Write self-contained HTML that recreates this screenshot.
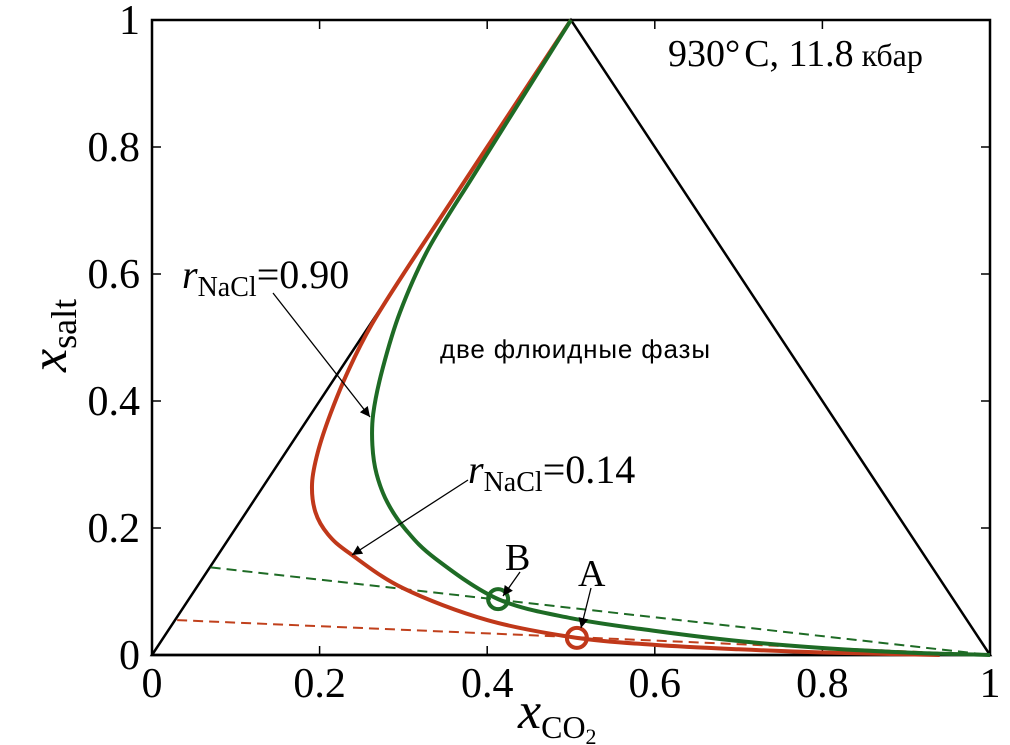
<!DOCTYPE html>
<html><head><meta charset="utf-8"><style>
html,body{margin:0;padding:0;background:#fff;}
svg{display:block;font-family:"Liberation Serif",serif;}
</style></head><body>
<svg id="chart" width="1010" height="745" viewBox="0 0 1010 745" xmlns="http://www.w3.org/2000/svg">
<defs>
<marker id="ah" viewBox="0 0 10 10" refX="10" refY="5" markerWidth="14" markerHeight="10" markerUnits="userSpaceOnUse" orient="auto"><path d="M0,0 L10,5 L0,10 z" fill="#000"/></marker>
</defs>
<g id="axes"></g>
<g id="marks"></g>
<text x="668" y="66" font-size="38">930°<tspan dx="4">C, 11.8</tspan><tspan font-size="32" dx="8">кбар</tspan></text>
<text x="440" y="358" font-size="26" font-family="Liberation Sans, sans-serif" textLength="270">две флюидные фазы</text>
<text x="182" y="288" font-size="40"><tspan font-style="italic">r</tspan><tspan font-size="28" dy="8">NaCl</tspan><tspan dy="-8">=0.90</tspan></text>
<text x="468" y="483" font-size="40"><tspan font-style="italic">r</tspan><tspan font-size="28" dy="8">NaCl</tspan><tspan dy="-8">=0.14</tspan></text>
<text x="505" y="570" font-size="38">B</text>
<text x="578" y="586" font-size="38">A</text>
<line x1="273" y1="293" x2="370" y2="417" stroke="#000" stroke-width="1.3" marker-end="url(#ah)"/>
<line x1="468" y1="480" x2="352" y2="555" stroke="#000" stroke-width="1.3" marker-end="url(#ah)"/>
<line x1="520" y1="572" x2="503" y2="596" stroke="#000" stroke-width="1.3" marker-end="url(#ah)"/>
<line x1="591" y1="588" x2="581" y2="628" stroke="#000" stroke-width="1.3" marker-end="url(#ah)"/>
<text x="518" y="728" font-size="52" font-style="italic">x<tspan font-style="normal" font-size="32" dy="10">CO</tspan><tspan font-style="normal" font-size="22" dy="6">2</tspan></text>
<text transform="translate(66,372) rotate(-90)" font-size="52" font-style="italic">x<tspan font-style="normal" font-size="36" dy="10">salt</tspan></text>
</svg>
<script>
const xTicks=[0,0.2,0.4,0.6,0.8,1];
const yTicks=[0,0.2,0.4,0.6,0.8,1];
const xTickLabels=["0","0.2","0.4","0.6","0.8","1"];
const yTickLabels=["0","0.2","0.4","0.6","0.8","1"];
const triangle=[[0,0],[0.5,1],[1,0]];
const greenX=[0.5,0.443,0.386,0.33,0.296,0.275,0.264,0.263,0.268,0.281,0.303,0.338,0.413,0.5,0.6,0.7,0.8,0.9,1.0];
const greenY=[1,0.88,0.76,0.64,0.54,0.45,0.38,0.33,0.285,0.24,0.197,0.152,0.088,0.058,0.038,0.022,0.011,0.004,0];
const redX=[0.5,0.45,0.40,0.35,0.30,0.262,0.235,0.213,0.198,0.191,0.195,0.21,0.236,0.3,0.4,0.507,0.6,0.7,0.8,0.94];
const redY=[1,0.9,0.8,0.7,0.6,0.52,0.45,0.38,0.32,0.27,0.225,0.19,0.16,0.105,0.055,0.027,0.016,0.009,0.004,0];
const greenTieX=[0.07,1.0], greenTieY=[0.138,0];
const redTieX=[0.03,1.0], redTieY=[0.055,0];
const pointB=[0.413,0.088], pointA=[0.507,0.027];
const X0=152,X1=990,Y0=655,Y1=20;
const sx=v=>X0+v*(X1-X0), sy=v=>Y0-v*(Y0-Y1);
const NS="http://www.w3.org/2000/svg";
const ax=document.getElementById('axes'), mk=document.getElementById('marks');
function el(t,a,p){const e=document.createElementNS(NS,t);for(const k in a)e.setAttribute(k,a[k]);p.appendChild(e);return e;}
let f=el('rect',{x:X0,y:Y1,width:X1-X0,height:Y0-Y1,fill:'none',stroke:'#000','stroke-width':2.5},ax);


xTicks.forEach((v,i)=>{
 let t=el('path',{d:`M${sx(v)},${Y0}v-9M${sx(v)},${Y1}v9`,stroke:'#000','stroke-width':1.5},ax);
 
 
 let l=el('text',{x:sx(v),y:697,'text-anchor':'middle','font-size':42},ax);l.textContent=xTickLabels[i];
 
 
});
yTicks.forEach((v,i)=>{
 let t=el('path',{d:`M${X0},${sy(v)}h9M${X1},${sy(v)}h-9`,stroke:'#000','stroke-width':1.5},ax);
 
 
 let l=el('text',{x:140,y:sy(v)+14,'text-anchor':'end','font-size':42},ax);l.textContent=yTickLabels[i];
 
 
});
let tri=el('polygon',{points:triangle.map(p=>sx(p[0])+','+sy(p[1])).join(' '),fill:'none',stroke:'#000','stroke-width':2.5},mk);


function smooth(xs,ys){const P=xs.map((x,i)=>[sx(x),sy(ys[i])]);let d=`M${P[0][0]},${P[0][1]}`;
 for(let i=0;i<P.length-1;i++){const p0=P[Math.max(i-1,0)],p1=P[i],p2=P[i+1],p3=P[Math.min(i+2,P.length-1)];
 d+=`C${p1[0]+(p2[0]-p0[0])/6},${p1[1]+(p2[1]-p0[1])/6} ${p2[0]-(p3[0]-p1[0])/6},${p2[1]-(p3[1]-p1[1])/6} ${p2[0]},${p2[1]}`;}return d;}
let gt=el('line',{x1:sx(greenTieX[0]),y1:sy(greenTieY[0]),x2:sx(greenTieX[1]),y2:sy(greenTieY[1]),stroke:'#1e6b25','stroke-width':2,'stroke-dasharray':'10,6'},mk);


let rt=el('line',{x1:sx(redTieX[0]),y1:sy(redTieY[0]),x2:sx(redTieX[1]),y2:sy(redTieY[1]),stroke:'#c0401c','stroke-width':2,'stroke-dasharray':'10,6'},mk);


let rc=el('path',{d:smooth(redX,redY),fill:'none',stroke:'#c0381a','stroke-width':4},mk);


let gc=el('path',{d:smooth(greenX,greenY),fill:'none',stroke:'#1e6b25','stroke-width':4},mk);


let cb=el('circle',{cx:sx(pointB[0]),cy:sy(pointB[1]),r:10,fill:'none',stroke:'#1e6b25','stroke-width':4},mk);


let ca=el('circle',{cx:sx(pointA[0]),cy:sy(pointA[1]),r:10,fill:'none',stroke:'#c0381a','stroke-width':4},mk);


</script>
</body></html>
